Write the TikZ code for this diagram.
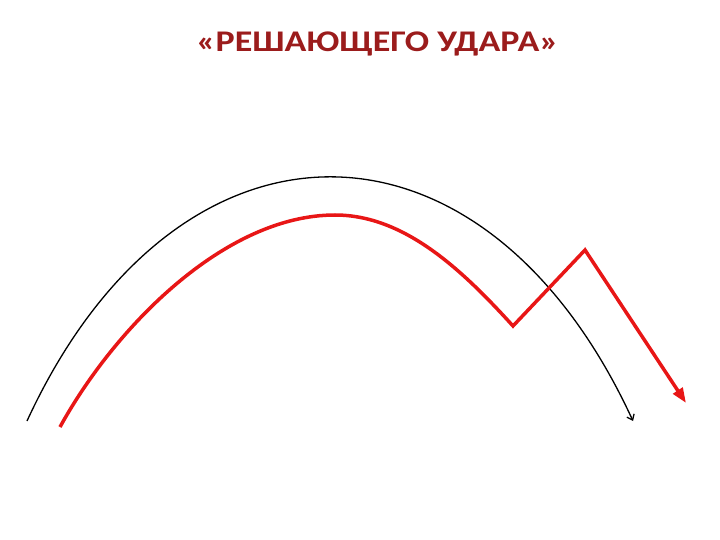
\documentclass[tikz,border=0pt]{standalone}
\usepackage{fontspec}
\setmainfont{Carlito}
\newfontfamily\titlefont[FakeStretch=1.2]{Carlito}
\usetikzlibrary{arrows.meta}
\definecolor{titlered}{RGB}{155,28,28}
\definecolor{pathred}{RGB}{232,22,22}
\tikzset{
  titletext/.style={font=\titlefont\fontsize{30}{36}\selectfont\bfseries, text=titlered, inner sep=0pt, anchor=base},
  blackarc/.style={draw=black, line width=1.3pt, -{Straight Barb[length=5pt,width=8pt]}},
  redpath/.style={draw=pathred, line width=3.5pt, line join=miter, -{Triangle[length=15pt,width=11pt]}},
}
\begin{document}
\begin{tikzpicture}[x=1pt,y=-1pt]
\useasboundingbox (0,0) rectangle (720,540);
\node[titletext] (title) at (377.5,51.7) {«РЕШАЮЩЕГО УДАРА»};
\coordinate (bs) at (27,421);
\coordinate (be) at (633,421);
\coordinate (rs) at (60,427);
\coordinate (rt) at (335,215);
\coordinate (rv) at (513,326);
\coordinate (rp) at (585,250);
\coordinate (re) at (686,403);
\draw[blackarc] (bs) .. controls (177,95.7) and (483,95.7) .. (be);
\draw[redpath] (rs) .. controls (115,327) and (225,215) .. (rt)
  .. controls (405,215) and (463,271) .. (rv) -- (rp) -- (re);
\end{tikzpicture}
\end{document}
